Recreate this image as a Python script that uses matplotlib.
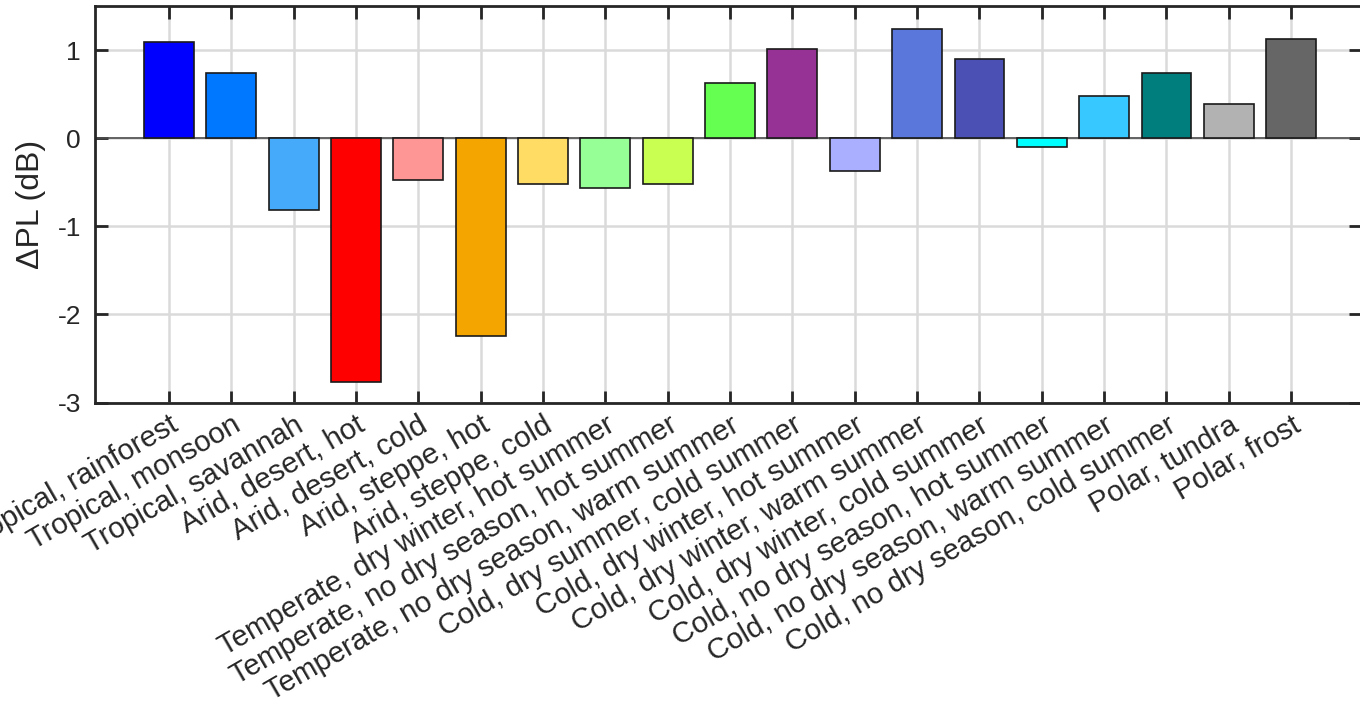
import matplotlib
matplotlib.use("Agg")
import matplotlib.pyplot as plt
import matplotlib.transforms as mtransforms

plt.rcParams['font.family'] = ['Liberation Sans', 'DejaVu Sans']

# Köppen-Geiger climate classes and path-loss change per class
categories = [
    "Tropical, rainforest", "Tropical, monsoon", "Tropical, savannah",
    "Arid, desert, hot", "Arid, desert, cold", "Arid, steppe, hot",
    "Arid, steppe, cold", "Temperate, dry winter, hot summer",
    "Temperate, no dry season, hot summer", "Temperate, no dry season, warm summer",
    "Cold, dry summer, cold summer", "Cold, dry winter, hot summer",
    "Cold, dry winter, warm summer", "Cold, dry winter, cold summer",
    "Cold, no dry season, hot summer", "Cold, no dry season, warm summer",
    "Cold, no dry season, cold summer", "Polar, tundra", "Polar, frost",
]
delta_pl = [1.09, 0.745, -0.82, -2.77, -0.47, -2.25, -0.515, -0.565, -0.515,
            0.63, 1.01, -0.37, 1.24, 0.895, -0.10, 0.48, 0.735, 0.385, 1.12]
bar_colors = ["#0000FF", "#0078FF", "#46AAFA", "#FF0000", "#FF9696", "#F5A500",
              "#FFDC64", "#96FF96", "#C8FF50", "#64FF50", "#963296", "#AAAFFF",
              "#5A78DC", "#4B50B4", "#00FFFF", "#37C8FF", "#007D7D", "#B2B2B2",
              "#666666"]
yticks = [-3, -2, -1, 0, 1]

W, H = 1360, 715
fig = plt.figure(figsize=(W / 100, H / 100), dpi=100)
left, right, top, bottom = 95, 1361, 6, 402.5
ax = fig.add_axes([left / W, (H - bottom) / H, (right - left) / W, (bottom - top) / H])

x = list(range(1, len(categories) + 1))
ax.bar(x, delta_pl, width=0.8, color=bar_colors, edgecolor="#1a1a1a",
       linewidth=1.2, zorder=3)
ax.axhline(0, color="#4d4d4d", linewidth=1.2, zorder=2)

ax.set_xlim(-0.187, 20.12)
ax.set_ylim(-3, 1.5)
ax.set_yticks(yticks)
ax.set_yticklabels([str(v) for v in yticks])
ax.set_xticks(x)
ax.set_xticklabels(categories, rotation=30, ha="right", va="top",
                   rotation_mode="anchor", fontsize=21.2)
offset = mtransforms.ScaledTranslation(21 / 100, -20 / 100, fig.dpi_scale_trans)
for lbl in ax.get_xticklabels():
    lbl.set_transform(lbl.get_transform() + offset)

ax.grid(True, color="#dadada", linewidth=1.8, zorder=0)
ax.set_axisbelow(True)
ax.tick_params(axis="both", direction="in", length=9, width=2.0,
               color="#262626", labelcolor="#262626", labelsize=19,
               top=True, right=True)
ax.tick_params(axis="x", labelsize=21.2, pad=6)
ax.tick_params(axis="y", pad=10)
for s in ax.spines.values():
    s.set_color("#262626")
    s.set_linewidth(2.0)

ax.set_ylabel("ΔPL (dB)", fontsize=23, color="#262626", labelpad=8)

fig.savefig("out.png", dpi=100)
